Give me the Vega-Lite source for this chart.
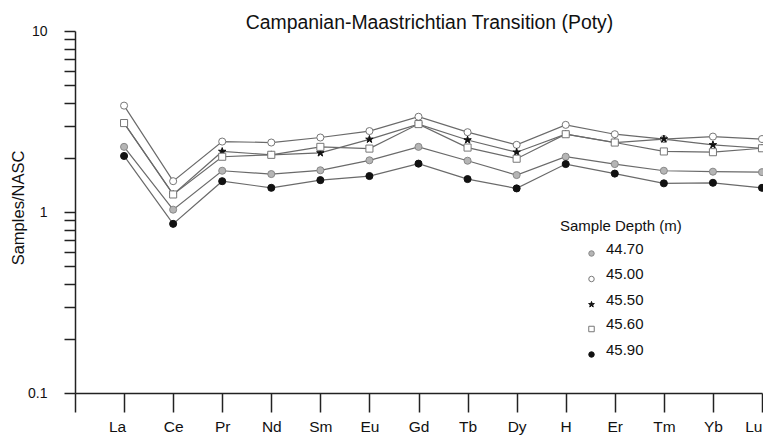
{
  "$schema": "https://vega.github.io/schema/vega-lite/v6.json",
  "width": 687,
  "height": 362,
  "autosize": {"type": "none"},
  "padding": {"left": 75, "top": 31, "right": 1, "bottom": 43},
  "background": "white",
  "config": {
    "font": "Liberation Sans",
    "view": {"stroke": null}
  },
  "title": {
    "text": "Campanian-Maastrichtian Transition (Poty)",
    "font": "Liberation Sans",
    "fontSize": 19.4,
    "fontWeight": "normal",
    "color": "#111111",
    "anchor": "middle",
    "dx": 11,
    "offset": -9
  },
  "data": {
    "values": [
      {"element": "La", "depth": "44.70", "value": 2.29},
      {"element": "Ce", "depth": "44.70", "value": 1.03},
      {"element": "Pr", "depth": "44.70", "value": 1.69},
      {"element": "Nd", "depth": "44.70", "value": 1.62},
      {"element": "Sm", "depth": "44.70", "value": 1.70},
      {"element": "Eu", "depth": "44.70", "value": 1.93},
      {"element": "Gd", "depth": "44.70", "value": 2.29},
      {"element": "Tb", "depth": "44.70", "value": 1.92},
      {"element": "Dy", "depth": "44.70", "value": 1.60},
      {"element": "H", "depth": "44.70", "value": 2.02},
      {"element": "Er", "depth": "44.70", "value": 1.84},
      {"element": "Tm", "depth": "44.70", "value": 1.69},
      {"element": "Yb", "depth": "44.70", "value": 1.67},
      {"element": "Lu", "depth": "44.70", "value": 1.66},

      {"element": "La", "depth": "45.00", "value": 3.87},
      {"element": "Ce", "depth": "45.00", "value": 1.48},
      {"element": "Pr", "depth": "45.00", "value": 2.45},
      {"element": "Nd", "depth": "45.00", "value": 2.42},
      {"element": "Sm", "depth": "45.00", "value": 2.58},
      {"element": "Eu", "depth": "45.00", "value": 2.80},
      {"element": "Gd", "depth": "45.00", "value": 3.36},
      {"element": "Tb", "depth": "45.00", "value": 2.76},
      {"element": "Dy", "depth": "45.00", "value": 2.35},
      {"element": "H", "depth": "45.00", "value": 3.03},
      {"element": "Er", "depth": "45.00", "value": 2.69},
      {"element": "Tm", "depth": "45.00", "value": 2.53},
      {"element": "Yb", "depth": "45.00", "value": 2.61},
      {"element": "Lu", "depth": "45.00", "value": 2.53},

      {"element": "La", "depth": "45.50", "value": 3.10},
      {"element": "Ce", "depth": "45.50", "value": 1.25},
      {"element": "Pr", "depth": "45.50", "value": 2.16},
      {"element": "Nd", "depth": "45.50", "value": 2.07},
      {"element": "Sm", "depth": "45.50", "value": 2.12},
      {"element": "Eu", "depth": "45.50", "value": 2.52},
      {"element": "Gd", "depth": "45.50", "value": 3.06},
      {"element": "Tb", "depth": "45.50", "value": 2.50},
      {"element": "Dy", "depth": "45.50", "value": 2.14},
      {"element": "H", "depth": "45.50", "value": 2.69},
      {"element": "Er", "depth": "45.50", "value": 2.42},
      {"element": "Tm", "depth": "45.50", "value": 2.53},
      {"element": "Yb", "depth": "45.50", "value": 2.35},
      {"element": "Lu", "depth": "45.50", "value": 2.25},

      {"element": "La", "depth": "45.60", "value": 3.10},
      {"element": "Ce", "depth": "45.60", "value": 1.25},
      {"element": "Pr", "depth": "45.60", "value": 2.02},
      {"element": "Nd", "depth": "45.60", "value": 2.07},
      {"element": "Sm", "depth": "45.60", "value": 2.29},
      {"element": "Eu", "depth": "45.60", "value": 2.24},
      {"element": "Gd", "depth": "45.60", "value": 3.06},
      {"element": "Tb", "depth": "45.60", "value": 2.27},
      {"element": "Dy", "depth": "45.60", "value": 1.97},
      {"element": "H", "depth": "45.60", "value": 2.69},
      {"element": "Er", "depth": "45.60", "value": 2.42},
      {"element": "Tm", "depth": "45.60", "value": 2.16},
      {"element": "Yb", "depth": "45.60", "value": 2.14},
      {"element": "Lu", "depth": "45.60", "value": 2.25},

      {"element": "La", "depth": "45.90", "value": 2.04},
      {"element": "Ce", "depth": "45.90", "value": 0.86},
      {"element": "Pr", "depth": "45.90", "value": 1.48},
      {"element": "Nd", "depth": "45.90", "value": 1.36},
      {"element": "Sm", "depth": "45.90", "value": 1.50},
      {"element": "Eu", "depth": "45.90", "value": 1.58},
      {"element": "Gd", "depth": "45.90", "value": 1.85},
      {"element": "Tb", "depth": "45.90", "value": 1.52},
      {"element": "Dy", "depth": "45.90", "value": 1.35},
      {"element": "H", "depth": "45.90", "value": 1.84},
      {"element": "Er", "depth": "45.90", "value": 1.63},
      {"element": "Tm", "depth": "45.90", "value": 1.44},
      {"element": "Yb", "depth": "45.90", "value": 1.45},
      {"element": "Lu", "depth": "45.90", "value": 1.36}
    ]
  },
  "encoding": {
    "x": {
      "field": "element",
      "type": "nominal",
      "scale": {
        "type": "point",
        "domain": ["", "La", "Ce", "Pr", "Nd", "Sm", "Eu", "Gd", "Tb", "Dy", "H", "Er", "Tm", "Yb", "Lu"],
        "padding": 0
      },
      "axis": {
        "title": null,
        "labelAngle": 0,
        "labelFont": "Liberation Sans",
        "labelFontSize": 15.5,
        "labelColor": "#111111",
        "labelPadding": 7,
        "labelAlign": {"condition": {"test": "datum.value == 'Lu'", "value": "right"}, "value": "center"},
        "labelOffset": {"condition": {"test": "datum.value == 'La'", "value": -7}, "value": 0},
        "labelBound": false,
        "labelOverlap": false,
        "tickSize": 19,
        "tickColor": "#222222",
        "tickWidth": 1.5,
        "domainColor": "#222222",
        "domainWidth": 1.5,
        "grid": false
      }
    },
    "y": {
      "field": "value",
      "type": "quantitative",
      "scale": {"type": "log", "domain": [0.1, 10], "nice": false},
      "axis": {
        "title": "Samples/NASC",
        "titleFont": "Liberation Sans",
        "titleFontSize": 16.5,
        "titleFontWeight": "normal",
        "titleColor": "#111111",
        "titleX": -56.5,
        "titleY": 176.5,
        "titleBaseline": "middle",
        "titleAngle": -90,
        "values": [0.1, 0.2, 0.3, 0.4, 0.5, 0.6, 0.7, 0.8, 0.9, 1, 2, 3, 4, 5, 6, 7, 8, 9, 10],
        "tickCount": 19,
        "format": "~g",
        "labelOverlap": false,
        "labelFlush": false,
        "labelBound": false,
        "labelFont": "Liberation Sans",
        "labelFontSize": 14,
        "labelColor": "#111111",
        "labelOpacity": {"condition": {"test": "abs(datum.value - 10) < 1e-6 || abs(datum.value - 1) < 1e-6 || abs(datum.value - 0.1) < 1e-6", "value": 1}, "value": 0},
        "labelPadding": 17,
        "tickSize": 11,
        "tickColor": "#222222",
        "tickWidth": 1.5,
        "domainColor": "#222222",
        "domainWidth": 1.5,
        "grid": false
      }
    }
  },
  "layer": [
    {
      "mark": {"type": "line", "color": "#6a6a6a", "strokeWidth": 1.2},
      "encoding": {"detail": {"field": "depth", "type": "nominal"}}
    },
    {
      "mark": {"type": "point", "filled": true, "size": 50, "strokeWidth": 1, "opacity": 1},
      "encoding": {
        "shape": {
          "field": "depth",
          "type": "nominal",
          "scale": {
            "domain": ["44.70", "45.00", "45.50", "45.60", "45.90"],
            "range": ["circle", "circle", "M0,-1.1L0.25,-0.34L1.05,-0.34L0.4,0.13L0.65,0.89L0,0.42L-0.65,0.89L-0.4,0.13L-1.05,-0.34L-0.25,-0.34Z", "square", "circle"]
          },
          "legend": {
            "title": "Sample Depth (m)",
            "orient": "none",
            "legendX": 485,
            "legendY": 188,
            "titleFont": "Liberation Sans",
            "titleFontSize": 15,
            "titleFontWeight": "normal",
            "titleColor": "#111111",
            "titlePadding": 12,
            "labelFont": "Liberation Sans",
            "labelFontSize": 15,
            "labelColor": "#111111",
            "labelBaseline": "alphabetic",
            "labelOffset": 7,
            "symbolOffset": 24,
            "symbolSize": 30,
            "rowPadding": 7.5,
            "symbolStrokeWidth": 1
          }
        },
        "fill": {
          "field": "depth",
          "type": "nominal",
          "scale": {"domain": ["44.70", "45.00", "45.50", "45.60", "45.90"], "range": ["#b5b5b5", "#ffffff", "#111111", "#ffffff", "#111111"]},
          "legend": null
        },
        "stroke": {
          "field": "depth",
          "type": "nominal",
          "scale": {"domain": ["44.70", "45.00", "45.50", "45.60", "45.90"], "range": ["#888888", "#777777", "#111111", "#777777", "#111111"]},
          "legend": null
        }
      }
    }
  ]
}
